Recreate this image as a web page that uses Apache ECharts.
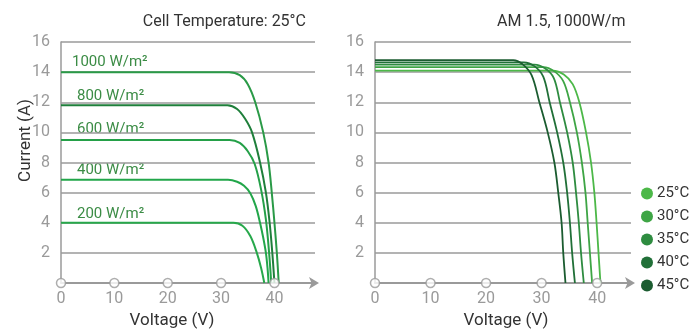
<!DOCTYPE html>
<html><head><meta charset="utf-8">
<script src="https://cdn.jsdelivr.net/npm/echarts@6/dist/echarts.min.js"></script>
<style>html,body{margin:0;padding:0;background:#fff}#c{width:699px;height:330px}</style>
</head><body><div id="c"></div>
<script>
// ---- data ----
var xTicks = [0, 10, 20, 30, 40];
var yTicks = [2, 4, 6, 8, 10, 12, 14, 16];

// Left chart: irradiance curves (voltage V, current A)
var irrNames = ['1000 W/m²', '800 W/m²', '600 W/m²', '400 W/m²', '200 W/m²'];
var v1000 = [0, 31.5, 33.5, 35.0, 36.4, 37.9, 38.9, 39.5, 40.0, 40.45, 40.8];
var i1000 = [14.0, 14.0, 13.8, 13.2, 12.0, 10.0, 8.0, 6.0, 4.0, 2.0, 0];
var v800 = [0, 31.2, 33.0, 34.5, 35.8, 37.3, 38.4, 39.1, 39.6, 40.0];
var i800 = [11.8, 11.8, 11.55, 10.9, 10.0, 8.0, 6.0, 4.0, 2.0, 0];
var v600 = [0, 31.6, 33.5, 35.0, 36.3, 37.5, 38.4, 39.0, 39.4];
var i600 = [9.5, 9.5, 9.3, 8.75, 7.9, 6.2, 4.2, 2.0, 0];
var v400 = [0, 31.3, 33.0, 34.3, 35.5, 36.5, 37.3, 37.9, 38.4, 38.7, 38.9];
var i400 = [6.85, 6.85, 6.72, 6.45, 5.95, 5.1, 4.0, 3.0, 2.0, 1.0, 0];
var v200 = [0, 32.3, 34.0, 35.5, 36.7, 37.5, 38.1];
var i200 = [4.0, 4.0, 3.8, 3.1, 2.0, 1.0, 0];

// Right chart: temperature curves
var tempNames = ['25°C', '30°C', '35°C', '40°C', '45°C'];
var v25 = [0, 32.0, 34.0, 35.6, 36.8, 38.0, 38.9, 39.5, 39.9, 40.25, 40.6];
var i25 = [14.1, 14.1, 13.85, 13.2, 12.0, 10.0, 8.0, 6.0, 4.0, 2.0, 0];
var v30 = [0, 30.3, 32.3, 33.9, 35.1, 36.35, 37.25, 37.9, 38.3, 38.7, 39.1];
var i30 = [14.33, 14.33, 14.05, 13.4, 12.0, 10.0, 8.0, 6.0, 4.0, 2.0, 0];
var v35 = [0, 28.7, 30.6, 32.2, 33.3, 34.6, 35.6, 36.2, 36.7, 37.1, 37.6];
var i35 = [14.5, 14.5, 14.25, 13.6, 12.0, 10.0, 8.0, 6.0, 4.0, 2.0, 0];
var v40 = [0, 26.8, 28.7, 30.3, 31.45, 32.8, 33.9, 34.6, 35.1, 35.5, 36.0];
var i40 = [14.65, 14.65, 14.4, 13.7, 12.0, 10.0, 8.0, 6.0, 4.0, 2.0, 0];
var v45 = [0, 24.9, 26.5, 28.2, 29.6, 31.1, 32.3, 33.0, 33.6, 33.9, 34.3];
var i45 = [14.8, 14.8, 14.55, 13.8, 12.0, 10.0, 8.0, 6.0, 4.0, 2.0, 0];

// ---- styling ----
var irrColors = ['#2a9a47', '#1f7f3b', '#24a048', '#22a64a', '#27a84b'];
var tempColors = ['#4cb848', '#3ea545', '#2e8c40', '#217038', '#1b5c30'];
var gray = '#9a9a9a';
var FONT = 'Roboto';

function zip(v, i) { return v.map(function (x, k) { return [x, i[k]]; }); }
var irrData = [zip(v1000, i1000), zip(v800, i800), zip(v600, i600), zip(v400, i400), zip(v200, i200)];
var tempData = [zip(v25, i25), zip(v30, i30), zip(v35, i35), zip(v40, i40), zip(v45, i45)];

function xAxisCfg(idx, max, namePad) {
  return {
    type: 'value', gridIndex: idx, min: 0, max: max, interval: 10,
    name: 'Voltage (V)', nameLocation: 'middle', nameGap: 28,
    nameTextStyle: { color: '#333', fontSize: 17, fontFamily: FONT, padding: namePad },
    axisLine: { show: true, lineStyle: { color: gray, width: 2 }, symbol: ['none', 'arrow'], symbolSize: [9, 10], symbolOffset: [0, 4] },
    axisTick: { show: false },
    splitLine: { show: false },
    axisLabel: {
      color: gray, fontSize: 16, fontFamily: FONT, margin: 8, showMaxLabel: false,
      formatter: function (v) { return xTicks.indexOf(v) >= 0 ? String(v) : ''; }
    }
  };
}
function yAxisCfg(idx, named) {
  return {
    type: 'value', gridIndex: idx, min: 0, max: 16, interval: 2,
    name: named ? 'Current (A)' : '', nameLocation: 'middle', nameGap: 27, nameMoveOverlap: false,
    nameTextStyle: { color: '#333', fontSize: 17, fontFamily: FONT, padding: [0, 0, 0, 44] },
    axisLine: { show: true, lineStyle: { color: gray, width: 1.5 } },
    axisTick: { show: false },
    splitLine: { show: true, lineStyle: { color: gray, width: 1.5 } },
    axisLabel: {
      color: gray, fontSize: 16, fontFamily: FONT, margin: 11, showMinLabel: false,
      formatter: function (v) { return yTicks.indexOf(v) >= 0 ? String(v) : ''; }
    }
  };
}

var series = [];
irrData.forEach(function (d, k) {
  series.push({
    type: 'line', xAxisIndex: 0, yAxisIndex: 0, data: d, smooth: 0.35,
    symbol: 'none', lineStyle: { color: irrColors[k], width: 2 }, itemStyle: { color: irrColors[k] },
    silent: true, z: 3
  });
});
tempData.forEach(function (d, k) {
  series.push({
    name: tempNames[k], type: 'line', xAxisIndex: 1, yAxisIndex: 1, data: d, smooth: 0.35,
    symbol: 'none', lineStyle: { color: tempColors[k], width: 1.8 }, itemStyle: { color: tempColors[k] },
    silent: true, z: 3
  });
});
[0, 1].forEach(function (g) {
  series.push({
    type: 'scatter', xAxisIndex: g, yAxisIndex: g,
    data: xTicks.map(function (t) { return [t, 0]; }),
    symbol: 'circle', symbolSize: 9,
    itemStyle: { color: '#fff', borderColor: gray, borderWidth: 1.5 },
    silent: true, z: 5
  });
});

var labelTops = [63, 97, 130, 171, 215];
var labelLefts = [72, 77, 77, 77, 77];
var graphics = irrNames.map(function (n, k) {
  return {
    type: 'text', left: labelLefts[k], top: labelTops[k] - 8,
    style: { text: n, fill: '#3b8c45', font: '15px ' + FONT }
  };
});

var chart = echarts.init(document.getElementById('c'), null, { renderer: 'canvas' });
chart.setOption({
  animation: false,
  backgroundColor: '#fff',
  textStyle: { fontFamily: FONT },
  title: [
    { text: 'Cell Temperature: 25°C', right: 388, top: 9, textStyle: { color: '#333', fontSize: 16, fontWeight: 'normal', fontFamily: FONT } },
    { text: 'AM 1.5, 1000W/m', left: 492, top: 9, textStyle: { color: '#333', fontSize: 16, fontWeight: 'normal', fontFamily: FONT } }
  ],
  legend: {
    data: tempNames, orient: 'vertical', left: 641, top: 186,
    icon: 'circle', itemWidth: 12, itemHeight: 12, itemGap: 8, padding: 0,
    textStyle: { color: '#333', fontSize: 15, fontFamily: FONT, padding: [0, 0, 0, -1] },
    selectedMode: false
  },
  grid: [
    { left: 61, top: 42, width: 254, height: 241, outerBoundsMode: 'none', containLabel: false },
    { left: 375, top: 42, width: 256, height: 241, outerBoundsMode: 'none', containLabel: false }
  ],
  xAxis: [xAxisCfg(0, 47.6, [0, 32, 0, 0]), xAxisCfg(1, 46.1, [0, 0, 0, 6])],
  yAxis: [yAxisCfg(0, true), yAxisCfg(1, false)],
  graphic: graphics,
  series: series
});
</script></body></html>
